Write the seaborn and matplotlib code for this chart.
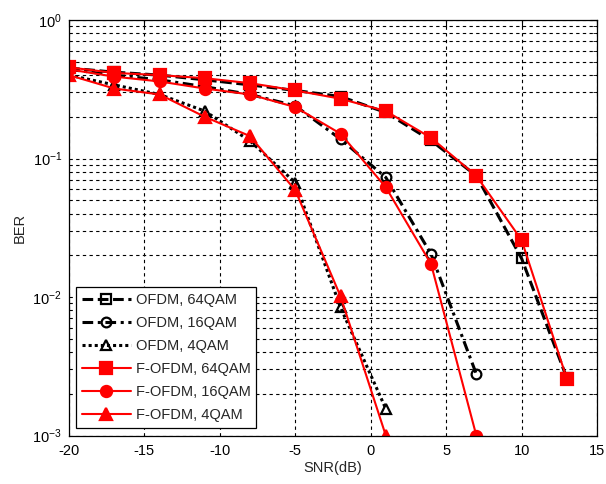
import numpy as np
import pandas as pd
import matplotlib
matplotlib.use("Agg")
import matplotlib.pyplot as plt
import seaborn as sns
from matplotlib.ticker import LogLocator, FixedLocator, NullFormatter

snr = [-20, -17, -14, -11, -8, -5, -2, 1, 4, 7, 10, 13]

ofdm_64 = [0.45, 0.42, 0.40, 0.37, 0.34, 0.31, 0.28, 0.215, 0.135, 0.075, 0.019, 0.0026]
ofdm_16 = [0.44, 0.40, 0.37, 0.33, 0.29, 0.24, 0.138, 0.073, 0.0204, 0.00278]
ofdm_4 = [0.40, 0.34, 0.29, 0.22, 0.134, 0.067, 0.0084, 0.00156]
fofdm_64 = [0.455, 0.415, 0.40, 0.38, 0.35, 0.31, 0.27, 0.22, 0.141, 0.075, 0.0258, 0.00257]
fofdm_16 = [0.44, 0.39, 0.36, 0.32, 0.29, 0.235, 0.151, 0.062, 0.0173, 0.001]
fofdm_4 = [0.40, 0.32, 0.29, 0.20, 0.145, 0.059, 0.0101, 0.001]

labels = ["OFDM, 64QAM", "OFDM, 16QAM", "OFDM, 4QAM",
          "F-OFDM, 64QAM", "F-OFDM, 16QAM", "F-OFDM, 4QAM"]

sns.set_style("white")
plt.rcParams["font.family"] = ["Liberation Sans", "DejaVu Sans"]
plt.rcParams["mathtext.fontset"] = "custom"
plt.rcParams["mathtext.rm"] = "Liberation Sans"
plt.rcParams["mathtext.it"] = "Liberation Sans"
plt.rcParams["axes.unicode_minus"] = False

fig = plt.figure(figsize=(6.06, 4.84), dpi=100)
ax = fig.add_axes([69/606, 1-435.5/484, (597-69)/606, (435.5-20)/484])

series = [
    (ofdm_64, labels[0], "black", (0, (3.5, 1.5)), "s", "none", 2.2, 7),
    (ofdm_16, labels[1], "black", (0, (3.5, 1.5, 1, 1.5)), "o", "none", 2.2, 7),
    (ofdm_4, labels[2], "black", (0, (1, 1)), "^", "none", 2.2, 7),
    (fofdm_64, labels[3], "red", "-", "s", "red", 1.5, 8),
    (fofdm_16, labels[4], "red", "-", "o", "red", 1.5, 8),
    (fofdm_4, labels[5], "red", "-", "^", "red", 1.5, 8),
]

for vals, lab, col, ls, mk, mfc, lw, ms in series:
    df = pd.DataFrame({"SNR": snr[:len(vals)], "BER": vals})
    sns.lineplot(data=df, x="SNR", y="BER", ax=ax, color=col, linestyle=ls,
                 marker=mk, markerfacecolor=mfc, markeredgecolor=col,
                 markeredgewidth=1.6, markersize=ms, linewidth=lw, label=lab)

ax.set_yscale("log")
ax.set_xlim(-20, 15)
ax.set_ylim(1e-3, 1)
ax.set_xticks([-20, -15, -10, -5, 0, 5, 10, 15])
ax.yaxis.set_major_locator(FixedLocator([1e-3, 1e-2, 1e-1, 1]))
ax.yaxis.set_minor_locator(LogLocator(base=10, subs=np.arange(2, 10), numticks=20))
ax.yaxis.set_minor_formatter(NullFormatter())

ax.grid(True, which="major", axis="both", color="black", linestyle=(0, (3, 3)), linewidth=0.8)
ax.grid(True, which="minor", axis="y", color="black", linestyle=(0, (3, 3)), linewidth=0.8)
ax.tick_params(which="both", direction="in", top=True, right=True, labelsize=10.5, colors="black")
ax.tick_params(which="major", length=5)
ax.tick_params(which="minor", length=3)
ax.tick_params(axis="x", pad=6)
ax.tick_params(axis="y", pad=5)
for s in ax.spines.values():
    s.set_color("black")
    s.set_linewidth(0.9)

ax.set_xlabel("SNR(dB)", fontsize=10.5, labelpad=2)
ax.set_ylabel("BER", fontsize=10.5, labelpad=4)

leg = ax.legend(loc="lower left", bbox_to_anchor=(0.013, 0.018), borderaxespad=0,
                fontsize=10.5, fancybox=False, edgecolor="black", framealpha=1,
                handlelength=3.4, labelspacing=0.62, handletextpad=0.3, borderpad=0.4)
leg.get_frame().set_linewidth(0.9)

fig.savefig("out.png", dpi=100, facecolor="white")
